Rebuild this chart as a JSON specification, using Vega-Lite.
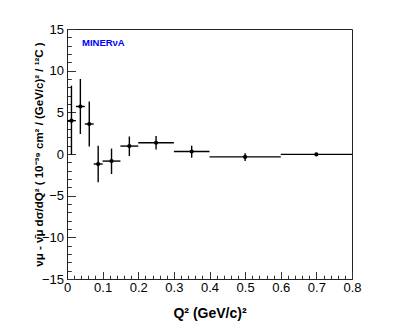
{
  "$schema": "https://vega.github.io/schema/vega-lite/v6.json",
  "width": 285,
  "height": 250,
  "autosize": {"type": "none"},
  "padding": {"left": 67, "top": 29, "right": 55, "bottom": 49},
  "background": "white",
  "config": {
    "font": "Liberation Sans",
    "view": {"stroke": "#222222", "strokeWidth": 1}
  },
  "datasets": {
    "pts": [
      {"q": 0.0125, "qlo": 0.0, "qhi": 0.025, "v": 4.0, "vlo": -0.1, "vhi": 8.2},
      {"q": 0.0375, "qlo": 0.025, "qhi": 0.05, "v": 5.7, "vlo": 2.4, "vhi": 9.0},
      {"q": 0.0625, "qlo": 0.05, "qhi": 0.075, "v": 3.6, "vlo": 0.9, "vhi": 6.3},
      {"q": 0.0875, "qlo": 0.075, "qhi": 0.1, "v": -1.2, "vlo": -3.4, "vhi": 1.0},
      {"q": 0.125, "qlo": 0.1, "qhi": 0.15, "v": -0.85, "vlo": -2.4, "vhi": 0.65},
      {"q": 0.175, "qlo": 0.15, "qhi": 0.2, "v": 0.95, "vlo": -0.25, "vhi": 2.1},
      {"q": 0.25, "qlo": 0.2, "qhi": 0.3, "v": 1.35, "vlo": 0.55, "vhi": 2.15},
      {"q": 0.35, "qlo": 0.3, "qhi": 0.4, "v": 0.3, "vlo": -0.45, "vhi": 1.0},
      {"q": 0.5, "qlo": 0.4, "qhi": 0.6, "v": -0.35, "vlo": -0.85, "vhi": 0.1},
      {"q": 0.7, "qlo": 0.6, "qhi": 0.8, "v": -0.05, "vlo": -0.25, "vhi": 0.15}
    ],
    "lab": [{"q": 0.042, "v": 13.3, "t": "MINERνA"}]
  },
  "resolve": {"axis": {"x": "independent", "y": "independent"}},
  "layer": [
    {
      "mark": {"type": "rule", "color": "#8c8c8c", "strokeWidth": 1},
      "encoding": {
        "y": {"datum": 0, "type": "quantitative", "scale": {"domain": [-15, 15], "nice": false}, "axis": null}
      }
    },
    {
      "data": {"name": "pts"},
      "mark": {"type": "rule", "color": "black", "strokeWidth": 1.4},
      "encoding": {
        "x": {"field": "qlo", "type": "quantitative", "scale": {"domain": [0, 0.8], "nice": false}, "axis": null},
        "x2": {"field": "qhi"},
        "y": {"field": "v", "type": "quantitative", "scale": {"domain": [-15, 15], "nice": false}, "axis": null}
      }
    },
    {
      "data": {"name": "pts"},
      "mark": {"type": "rule", "color": "black", "strokeWidth": 1.4},
      "encoding": {
        "x": {
          "field": "q", "type": "quantitative", "scale": {"domain": [0, 0.8], "nice": false},
          "axis": {
            "orient": "bottom", "values": [0.02,0.04,0.06,0.08,0.12,0.14,0.16,0.18,0.22,0.24,0.26,0.28,0.32,0.34,0.36,0.38,0.42,0.44,0.46,0.48,0.52,0.54,0.56,0.58,0.62,0.64,0.66,0.68,0.72,0.74,0.76,0.78],
            "labels": false, "domain": false, "grid": false, "title": null,
            "tickSize": -3.8, "tickColor": "#333333", "tickWidth": 1
          }
        },
        "y": {
          "field": "vlo", "type": "quantitative", "scale": {"domain": [-15, 15], "nice": false},
          "axis": {
            "orient": "left", "values": [-14,-13,-12,-11,-9,-8,-7,-6,-4,-3,-2,-1,1,2,3,4,6,7,8,9,11,12,13,14],
            "labels": false, "domain": false, "grid": false, "title": null,
            "tickSize": -4.3, "tickColor": "#333333", "tickWidth": 1
          }
        },
        "y2": {"field": "vhi"}
      }
    },
    {
      "data": {"name": "pts"},
      "mark": {"type": "point", "filled": true, "color": "black", "size": 18, "opacity": 1, "shape": "circle"},
      "encoding": {
        "x": {
          "field": "q", "type": "quantitative", "scale": {"domain": [0, 0.8], "nice": false},
          "axis": {
            "orient": "bottom", "values": [0,0.1,0.2,0.3,0.4,0.5,0.6,0.7,0.8],
            "grid": false, "tickSize": -7.5, "tickColor": "#333333", "domainColor": "#222222",
            "labelFontSize": 13, "labelColor": "black", "labelPadding": 10, "labelFlush": false,
            "labelExpr": "datum.value == 0 ? '0' : format(datum.value, '.1f')",
            "title": "Q² (GeV/c)²", "titleFontSize": 14, "titleFontWeight": "bold", "titleColor": "black", "titlePadding": 12
          }
        },
        "y": {
          "field": "v", "type": "quantitative", "scale": {"domain": [-15, 15], "nice": false},
          "axis": {
            "orient": "left", "values": [-15,-10,-5,0,5,10,15],
            "grid": false, "tickSize": -8.5, "tickColor": "#333333", "domainColor": "#222222",
            "labelFontSize": 13, "labelColor": "black", "labelPadding": 12, "labelFlush": false,
            "title": "νμ - ν̄μ  dσ/dQ² ( 10⁻³⁹ cm² / (GeV/c)² / ¹²C )", "titleFontSize": 11.5, "titleFontWeight": "bold", "titleColor": "black", "titlePadding": -3
          }
        }
      }
    },
    {
      "data": {"name": "lab"},
      "mark": {"type": "text", "align": "left", "baseline": "middle", "color": "#0000ff", "fontWeight": "bold", "fontSize": 9.5},
      "encoding": {
        "x": {"field": "q", "type": "quantitative", "scale": {"domain": [0, 0.8], "nice": false}, "axis": null},
        "y": {"field": "v", "type": "quantitative", "scale": {"domain": [-15, 15], "nice": false}, "axis": null},
        "text": {"field": "t"}
      }
    }
  ]
}
